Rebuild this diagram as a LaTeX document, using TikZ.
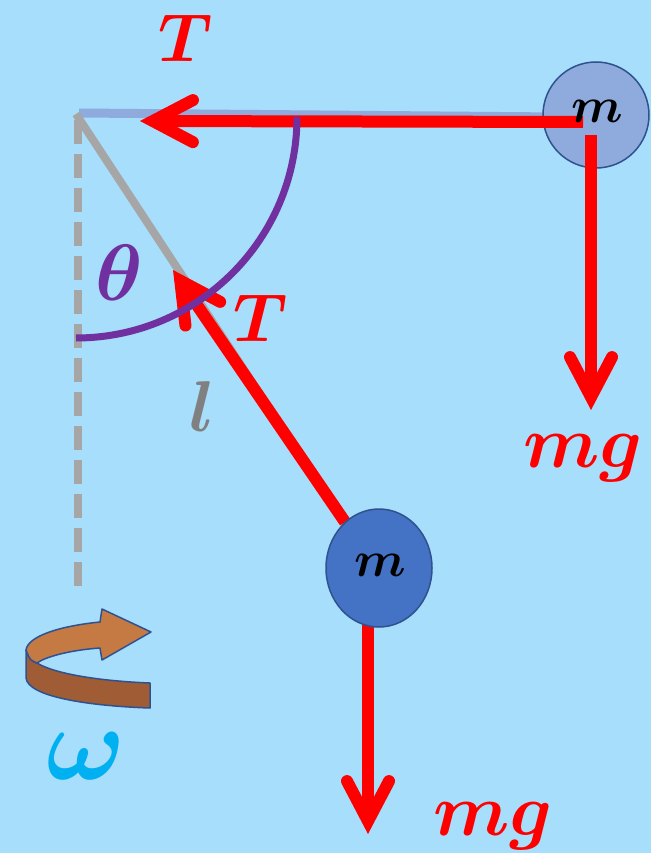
\documentclass[tikz,border=0pt]{standalone}
\usepackage{amsmath}
\DeclareFontShape{OML}{cmm}{m}{it}{<->cmmi10}{}
\DeclareFontShape{OML}{cmm}{b}{it}{<->cmmib10}{}
\usetikzlibrary{arrows.meta,shapes.geometric,calc}
\definecolor{bg}{RGB}{166,222,252}
\definecolor{fred}{RGB}{255,0,0}
\definecolor{stringgray}{RGB}{166,166,166}
\definecolor{stringblue}{RGB}{143,170,220}
\definecolor{arcpurple}{RGB}{112,48,160}
\definecolor{massup}{RGB}{143,170,220}
\definecolor{masslow}{RGB}{68,114,196}
\definecolor{massedge}{RGB}{47,82,143}
\definecolor{rottop}{RGB}{197,122,68}
\definecolor{rotfront}{RGB}{160,92,52}
\definecolor{omegacol}{RGB}{0,176,240}
\definecolor{lgray}{RGB}{128,128,128}
\begin{document}
\begin{tikzpicture}[x=1pt,y=-1pt,
  force/.style={draw=fred, line width=12pt, -{Straight Barb[length=40pt,width=42pt,line cap=round,line join=miter]}},
  lbl/.style={inner sep=0pt, font=\fontsize{#1}{#1}\selectfont\boldmath},
  mass/.style={draw=massedge, line width=1.5pt, inner sep=0pt}]
\useasboundingbox[fill=bg] (0,0) rectangle (651,853);
% coordinates
\coordinate (pivot) at (76,114);
\coordinate (axisend) at (78,592);
\coordinate (axistop) at (78,120);
\coordinate (hstart) at (79,113);
\coordinate (hend) at (560,117);
\coordinate (gend) at (346,525);
\coordinate (Tup0) at (583,122);
\coordinate (Tup1) at (140,121);
\coordinate (Gup0) at (591,135);
\coordinate (Gup1) at (591,410);
\coordinate (Tlo0) at (345,522);
\coordinate (Tlo1) at (173,270);
\coordinate (Glo0) at (368,620);
\coordinate (Glo1) at (368,834);
% axis and strings
\draw[stringgray, line width=8pt, dash pattern=on 24pt off 10pt] (axistop) -- (axisend);
\draw[stringblue, line width=9pt] (hstart) -- (hend);
\draw[stringgray, line width=8pt] (pivot) -- (gend);
% upper mass
\node[mass, circle, fill=massup, minimum size=106pt] (m1) at (596,115) {};
% forces
\draw[force] (Tup0) -- (Tup1);
\draw[force] (Gup0) -- (Gup1);
\draw[force] (Tlo0) -- (Tlo1);
\draw[force] (Glo0) -- (Glo1);
\node[lbl=50] (m1lab) at (597,111) {$m$};
% lower mass
\node[mass, ellipse, fill=masslow, minimum width=106pt, minimum height=118pt] (m2) at (379,568) {};
\node[lbl=50] (m2lab) at (380,565) {$m$};
% angle arc
\draw[arcpurple, line width=7pt] (pivot) ++(221,3) arc[start angle=0, end angle=90, radius=221];
% labels
\node[lbl=68, text=fred] (Ttop) at (186,38) {$T$};
\node[lbl=68, text=fred] (Tlow) at (261,318) {$T$};
\node[lbl=80, text=arcpurple] (theta) at (119,273) {$\theta$};
\node[lbl=72, text=lgray] (ell) at (202,406) {$l$};
\node[lbl=74, text=fred, anchor=base] (mgup) at (583,467) {$mg$};
\node[lbl=74, text=fred, anchor=base] (mglow) at (493,835) {$mg$};
\node[lbl=105, text=omegacol] (omega) at (86,756) {$\omega$};
% rotation arrow
\draw[draw=massedge, line width=1.5pt, fill=rotfront, line join=round]
  (26,650) -- (26,678) .. controls (28,697) and (90,706) .. (150,708)
  -- (150,683) .. controls (100,681) and (55,674) .. (37,663)
  .. controls (30,660) .. (26,650) -- cycle;
\draw[draw=massedge, line width=1.5pt, fill=rottop, line join=round]
  (26,650) .. controls (28,636) and (60,626) .. (100,622)
  -- (102,609) -- (151,632) -- (102,660) -- (100,648)
  .. controls (70,650) and (45,657) .. (37,663)
  .. controls (30,660) .. (26,650) -- cycle;
\end{tikzpicture}
\end{document}
